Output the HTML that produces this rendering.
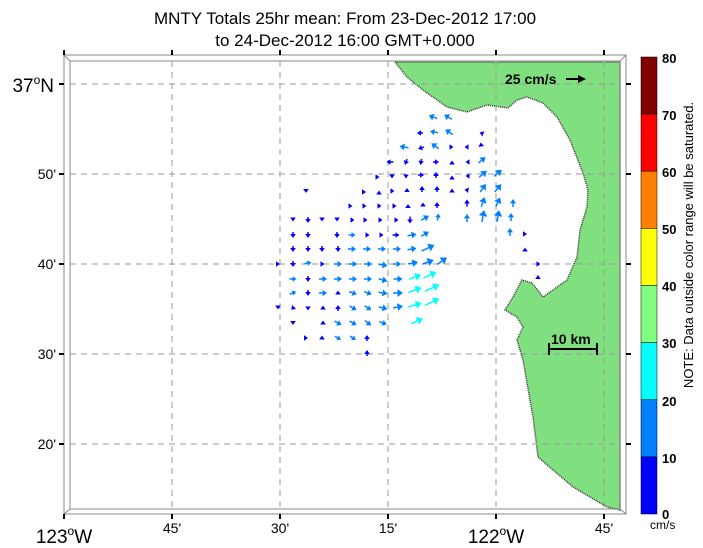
<!DOCTYPE html>
<html><head><meta charset="utf-8"><style>
body{margin:0;background:#fff;}
svg{display:block;font-family:"Liberation Sans",sans-serif;}
</style></head><body>
<svg id="s" width="703" height="548" viewBox="0 0 703 548" xmlns="http://www.w3.org/2000/svg">
<text x="345" y="24" font-size="17" text-anchor="middle">MNTY Totals 25hr mean: From 23-Dec-2012 17:00</text>
<text x="345" y="46" font-size="17" text-anchor="middle">to 24-Dec-2012 16:00 GMT+0.000</text>
<polygon fill="#80e080" stroke="#333" stroke-width="1.5" stroke-dasharray="1 1" points="395,62 407,77 423,90 447,107 467,112 487,105 508,108 517,100 527,97 543,103 557,117 570,140 583,173 588,190 587,207 580,230 577,257 567,280 543,297 532,283 522,280 513,297 505,310 517,317 523,327 517,340 523,360 527,383 533,417 538,457 553,470 573,487 607,507 620,510 620,62"/>
<g stroke="#999" stroke-dasharray="6 5" stroke-width="1">
<line x1="172" y1="61" x2="172" y2="509"/><line x1="280" y1="61" x2="280" y2="509"/><line x1="388" y1="61" x2="388" y2="509"/><line x1="496" y1="61" x2="496" y2="509"/><line x1="604" y1="61" x2="604" y2="509"/>
<line x1="70" y1="84" x2="620" y2="84"/><line x1="70" y1="174" x2="620" y2="174"/><line x1="70" y1="264" x2="620" y2="264"/><line x1="70" y1="354" x2="620" y2="354"/><line x1="70" y1="444" x2="620" y2="444"/>
</g>
<g fill="none" stroke="#888" stroke-width="1">
<rect x="64" y="55" width="562" height="459"/>
<rect x="70" y="61" width="550" height="448"/>
<line x1="64" y1="55" x2="70" y2="61"/><line x1="626" y1="55" x2="620" y2="61"/><line x1="64" y1="514" x2="70" y2="509"/><line x1="626" y1="514" x2="620" y2="509"/>
</g>
<g stroke="#000" stroke-width="2">
<line x1="64" y1="50" x2="64" y2="55"/><line x1="172" y1="50" x2="172" y2="55"/><line x1="280" y1="50" x2="280" y2="55"/><line x1="388" y1="50" x2="388" y2="55"/><line x1="496" y1="50" x2="496" y2="55"/><line x1="604" y1="50" x2="604" y2="55"/>
<line x1="64" y1="514" x2="64" y2="519"/><line x1="172" y1="514" x2="172" y2="519"/><line x1="280" y1="514" x2="280" y2="519"/><line x1="388" y1="514" x2="388" y2="519"/><line x1="496" y1="514" x2="496" y2="519"/><line x1="604" y1="514" x2="604" y2="519"/>
<line x1="59" y1="84" x2="64" y2="84"/><line x1="59" y1="174" x2="64" y2="174"/><line x1="59" y1="264" x2="64" y2="264"/><line x1="59" y1="354" x2="64" y2="354"/><line x1="59" y1="444" x2="64" y2="444"/>
<line x1="626" y1="84" x2="631" y2="84"/><line x1="626" y1="174" x2="631" y2="174"/><line x1="626" y1="264" x2="631" y2="264"/><line x1="626" y1="354" x2="631" y2="354"/><line x1="626" y1="444" x2="631" y2="444"/>
</g>
<g font-size="14" text-anchor="middle">
<text x="64" y="543" font-size="19">123<tspan font-size="12" dy="-8">o</tspan><tspan dy="8">W</tspan></text>
<text x="172" y="533">45'</text><text x="280" y="533">30'</text><text x="388" y="533">15'</text>
<text x="496" y="543" font-size="19">122<tspan font-size="12" dy="-8">o</tspan><tspan dy="8">W</tspan></text>
<text x="604" y="533">45'</text>
</g>
<g font-size="14" text-anchor="end">
<text x="54" y="92" font-size="19">37<tspan font-size="12" dy="-8">o</tspan><tspan dy="8">N</tspan></text>
<text x="56" y="179">50'</text><text x="56" y="269">40'</text><text x="56" y="359">30'</text><text x="56" y="449">20'</text>
</g>
<text x="505" y="84" font-size="14" font-weight="bold">25 cm/s</text>
<line x1="566" y1="79" x2="580" y2="79" stroke="#000" stroke-width="2"/><polygon points="586,79 578,75 578,83" fill="#000"/>
<text x="551" y="344" font-size="14" font-weight="bold">10 km</text>
<g stroke="#000" stroke-width="2"><line x1="549" y1="349" x2="597" y2="349"/><line x1="549" y1="343" x2="549" y2="355"/><line x1="597" y1="343" x2="597" y2="355"/></g>
<g id="arrows"></g>
<g stroke="#000" stroke-width="0.5">
<rect x="641" y="57" width="16" height="57.1" fill="#800000"/>
<rect x="641" y="114.1" width="16" height="57.1" fill="#ff0000"/>
<rect x="641" y="171.2" width="16" height="57.1" fill="#ff8000"/>
<rect x="641" y="228.4" width="16" height="57.1" fill="#ffff00"/>
<rect x="641" y="285.5" width="16" height="57.1" fill="#80ff80"/>
<rect x="641" y="342.6" width="16" height="57.1" fill="#00ffff"/>
<rect x="641" y="399.8" width="16" height="57.1" fill="#0080ff"/>
<rect x="641" y="456.9" width="16" height="57.1" fill="#0000ff"/>
</g>
<g font-size="13" font-weight="bold">
<text x="662" y="63">80</text><text x="662" y="120">70</text><text x="662" y="177">60</text><text x="662" y="234">50</text><text x="662" y="291">40</text><text x="662" y="348">30</text><text x="662" y="406">20</text><text x="662" y="463">10</text><text x="662" y="519">0</text>
</g>
<text x="650" y="529" font-size="12">cm/s</text>
<text transform="translate(693,245) rotate(-90)" font-size="13" text-anchor="middle">NOTE: Data outside color range will be saturated.</text>
</svg>
<script>
var D="#0000ff",M="#0080ff",C="#00ffff";
var a=[
[433,117,M,200,9],[448,117,M,210,9],
[420,133,D,180,6],[434,132,M,190,8],[449,132,M,215,9],[481,133,D,200,3],
[404,147,M,190,9],[421,148,D,160,6],[435,146,M,215,9],[451,147,D,0,5],[466,147,D,180,3],[481,145,D,260,5],
[390,162,D,180,7],[406,162,D,110,6],[421,162,D,100,6],[436,162,D,0,6],[452,162,D,270,3],[467,162,D,180,3],[482,160,M,-40,9],
[378,177,D,0,3],[392,177,D,90,3],[406,177,D,90,3],[421,175,D,0,6],[436,175,D,270,6],[452,177,D,270,3],[467,176,D,180,3],[483,174,M,-40,10],[498,173,M,-40,10],
[306,191,D,90,4],[365,192,D,0,2],[379,192,D,270,3],[393,191,D,0,3],[407,190,D,270,4],[422,189,D,270,6],[437,189,D,270,6],[452,190,D,270,3],[467,190,D,190,5],[483,188,M,-55,10],[498,188,M,-50,10],
[351,206,D,0,3],[365,206,D,0,3],[380,206,D,0,3],[395,206,D,0,3],[408,206,D,270,4],[423,205,D,270,5],[437,205,D,270,6],[467,203,D,270,7],[483,202,M,-70,10],[498,202,M,-65,10],[513,203,M,-90,8],
[293,220,D,90,3],[308,220,D,90,6],[322,220,D,90,3],[337,220,D,90,3],[352,220,D,0,5],[366,220,D,0,3],[381,220,D,0,3],[396,220,D,0,5],[410,220,D,90,7],[425,218,M,-30,9],[438,217,M,-80,7],[467,218,M,-90,8],[483,216,M,-80,12],[498,216,M,-80,12],[511,217,M,-90,8],
[293,235,D,90,6],[308,235,D,90,6],[337,235,D,90,6],[352,235,M,0,7],[367,235,D,0,5],[381,235,D,0,5],[396,235,D,0,7],[412,235,M,-10,9],[425,234,M,-30,9],[510,232,M,-90,8],[525,234,D,0,4],
[293,249,D,90,6],[308,249,D,90,6],[322,249,D,90,6],[338,249,D,90,6],[352,249,M,0,8],[367,249,M,0,8],[382,249,M,0,8],[397,249,M,0,8],[412,249,M,-10,9],[428,248,M,-25,14],[525,249,D,270,3],
[278,264,D,0,4],[293,264,D,90,6],[308,263,M,-10,7],[322,264,D,0,5],[338,264,M,0,8],[353,264,M,0,8],[368,264,M,0,8],[383,265,M,10,9],[397,264,M,0,8],[413,263,M,-10,10],[428,262,M,-20,12],[442,261,M,-35,12],[539,264,D,0,3],[538,277,D,270,4],
[293,279,M,0,7],[308,279,D,90,6],[323,279,M,0,8],[338,279,M,0,8],[353,279,M,0,8],[368,279,M,0,8],[383,280,M,15,9],[398,279,M,0,9],[415,277,C,-20,13],[430,275,C,-25,14],
[293,293,M,-20,7],[308,293,D,90,6],[323,293,M,0,8],[338,293,D,270,5],[353,293,M,20,8],[368,293,M,20,8],[383,293,M,10,9],[398,293,M,0,10],[415,290,C,-20,14],[432,288,C,-25,16],
[278,308,D,90,3],[293,308,D,135,5],[308,308,D,90,5],[323,308,D,270,5],[338,308,D,270,6],[353,308,M,30,8],[368,308,M,35,8],[383,308,M,15,9],[398,307,M,-10,10],[415,305,C,-15,14],[432,302,C,-25,16],
[293,323,D,90,4],[323,323,D,270,5],[338,323,M,30,8],[353,323,M,30,8],[368,323,M,40,8],[383,323,M,20,8],[417,321,C,-25,13],
[307,338,D,0,2],[322,338,D,270,5],[338,338,M,30,7],[353,338,M,35,7],[367,338,D,270,6],
[367,353,D,270,6]];
var g=document.getElementById("arrows"),h="";
a.forEach(function(v){var x=v[0],y=v[1],c=v[2],an=v[3]*Math.PI/180,L=v[4];
var dx=Math.cos(an),dy=Math.sin(an);
var x0=x-dx*L/2,y0=y-dy*L/2,x1=x+dx*L/2,y1=y+dy*L/2;
var hs=Math.min(6,Math.max(4,L*0.55)),hw=hs*0.7;
var bx=x1-dx*hs,by=y1-dy*hs;
if(L>hs+1)h+='<line x1="'+x0+'" y1="'+y0+'" x2="'+bx+'" y2="'+by+'" stroke="'+c+'" stroke-width="1.5"/>';
h+='<polygon fill="'+c+'" points="'+x1+','+y1+' '+(bx-dy*hw)+','+(by+dx*hw)+' '+(bx+dy*hw)+','+(by-dx*hw)+'"/>';});
g.innerHTML=h;
</script>
</body></html>
